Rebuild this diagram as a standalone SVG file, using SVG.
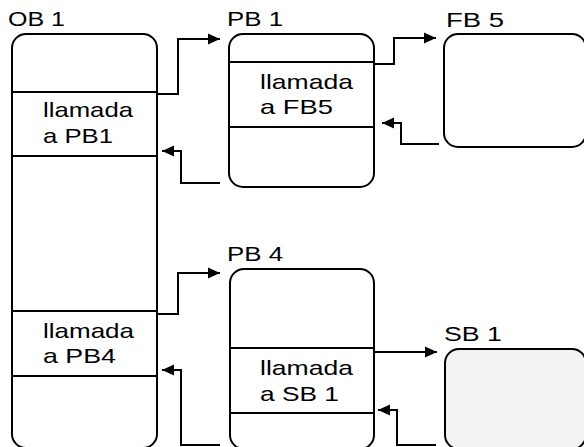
<svg xmlns="http://www.w3.org/2000/svg" width="584" height="447" viewBox="0 0 584 447">
<defs>
<style>
.box{fill:#ffffff;stroke:#000;stroke-width:2}
.div{stroke:#000;stroke-width:2}
.lbl{font-family:"Liberation Sans",Arial,sans-serif;font-size:20px;fill:#000}
.txt{font-family:"Liberation Sans",Arial,sans-serif;font-size:21px;fill:#000}
.con{fill:none;stroke:#000;stroke-width:2}
</style>
<marker id="ah" markerUnits="userSpaceOnUse" markerWidth="12" markerHeight="12" viewBox="0 0 10 10" refX="10" refY="5" orient="auto">
<path d="M0,0.5 L10,5 L0,9.5 Z" fill="#000"/>
</marker>
</defs>
<rect width="584" height="447" fill="#fff"/>
<g id="OB1">
<rect class="box" x="12" y="34" width="145" height="414" rx="14"/>
<line class="div" x1="12" y1="92" x2="157" y2="92"/>
<line class="div" x1="12" y1="156" x2="157" y2="156"/>
<line class="div" x1="12" y1="311" x2="157" y2="311"/>
<line class="div" x1="12" y1="376" x2="157" y2="376"/>
<text class="lbl" x="8" y="26" textLength="57" lengthAdjust="spacingAndGlyphs">OB 1</text>
<text class="txt" x="43" y="117" textLength="90" lengthAdjust="spacingAndGlyphs">llamada</text>
<text class="txt" x="43" y="143" textLength="70" lengthAdjust="spacingAndGlyphs">a PB1</text>
<text class="txt" x="43" y="338" textLength="91" lengthAdjust="spacingAndGlyphs">llamada</text>
<text class="txt" x="43" y="363" textLength="73" lengthAdjust="spacingAndGlyphs">a PB4</text>
</g>
<g id="PB1">
<rect class="box" x="229" y="34" width="145" height="153" rx="14"/>
<line class="div" x1="229" y1="62" x2="374" y2="62"/>
<line class="div" x1="229" y1="127" x2="374" y2="127"/>
<text class="lbl" x="227" y="26" textLength="56" lengthAdjust="spacingAndGlyphs">PB 1</text>
<text class="txt" x="260" y="89" textLength="93" lengthAdjust="spacingAndGlyphs">llamada</text>
<text class="txt" x="260" y="114" textLength="73" lengthAdjust="spacingAndGlyphs">a FB5</text>
</g>
<g id="FB5">
<rect class="box" x="444" y="34" width="142" height="113" rx="14"/>
<text class="lbl" x="446" y="27" textLength="58" lengthAdjust="spacingAndGlyphs">FB 5</text>
</g>
<g id="PB4">
<rect class="box" x="230" y="269" width="144" height="180" rx="14"/>
<line class="div" x1="230" y1="348" x2="374" y2="348"/>
<line class="div" x1="230" y1="413" x2="374" y2="413"/>
<text class="lbl" x="227" y="261" textLength="56" lengthAdjust="spacingAndGlyphs">PB 4</text>
<text class="txt" x="260" y="375" textLength="93" lengthAdjust="spacingAndGlyphs">llamada</text>
<text class="txt" x="260" y="401" textLength="79" lengthAdjust="spacingAndGlyphs">a SB 1</text>
</g>
<g id="SB1">
<rect class="box" x="445" y="349" width="141" height="100" rx="14" style="fill:#f3f3f3"/>
<text class="lbl" x="444" y="341" textLength="58" lengthAdjust="spacingAndGlyphs">SB 1</text>
</g>
<g id="connectors">
<path class="con" d="M158,94 H178 V39 H220" marker-end="url(#ah)"/>
<path class="con" d="M220,183 H181 V151 H162" marker-end="url(#ah)"/>
<path class="con" d="M375,64 H394 V38 H436" marker-end="url(#ah)"/>
<path class="con" d="M439,144 H401 V123 H382" marker-end="url(#ah)"/>
<path class="con" d="M158,314 H178 V273 H220" marker-end="url(#ah)"/>
<path class="con" d="M220,445 H181 V370 H162" marker-end="url(#ah)"/>
<path class="con" d="M375,352 H437" marker-end="url(#ah)"/>
<path class="con" d="M436,445 H397 V410 H378" marker-end="url(#ah)"/>
</g>
</svg>
